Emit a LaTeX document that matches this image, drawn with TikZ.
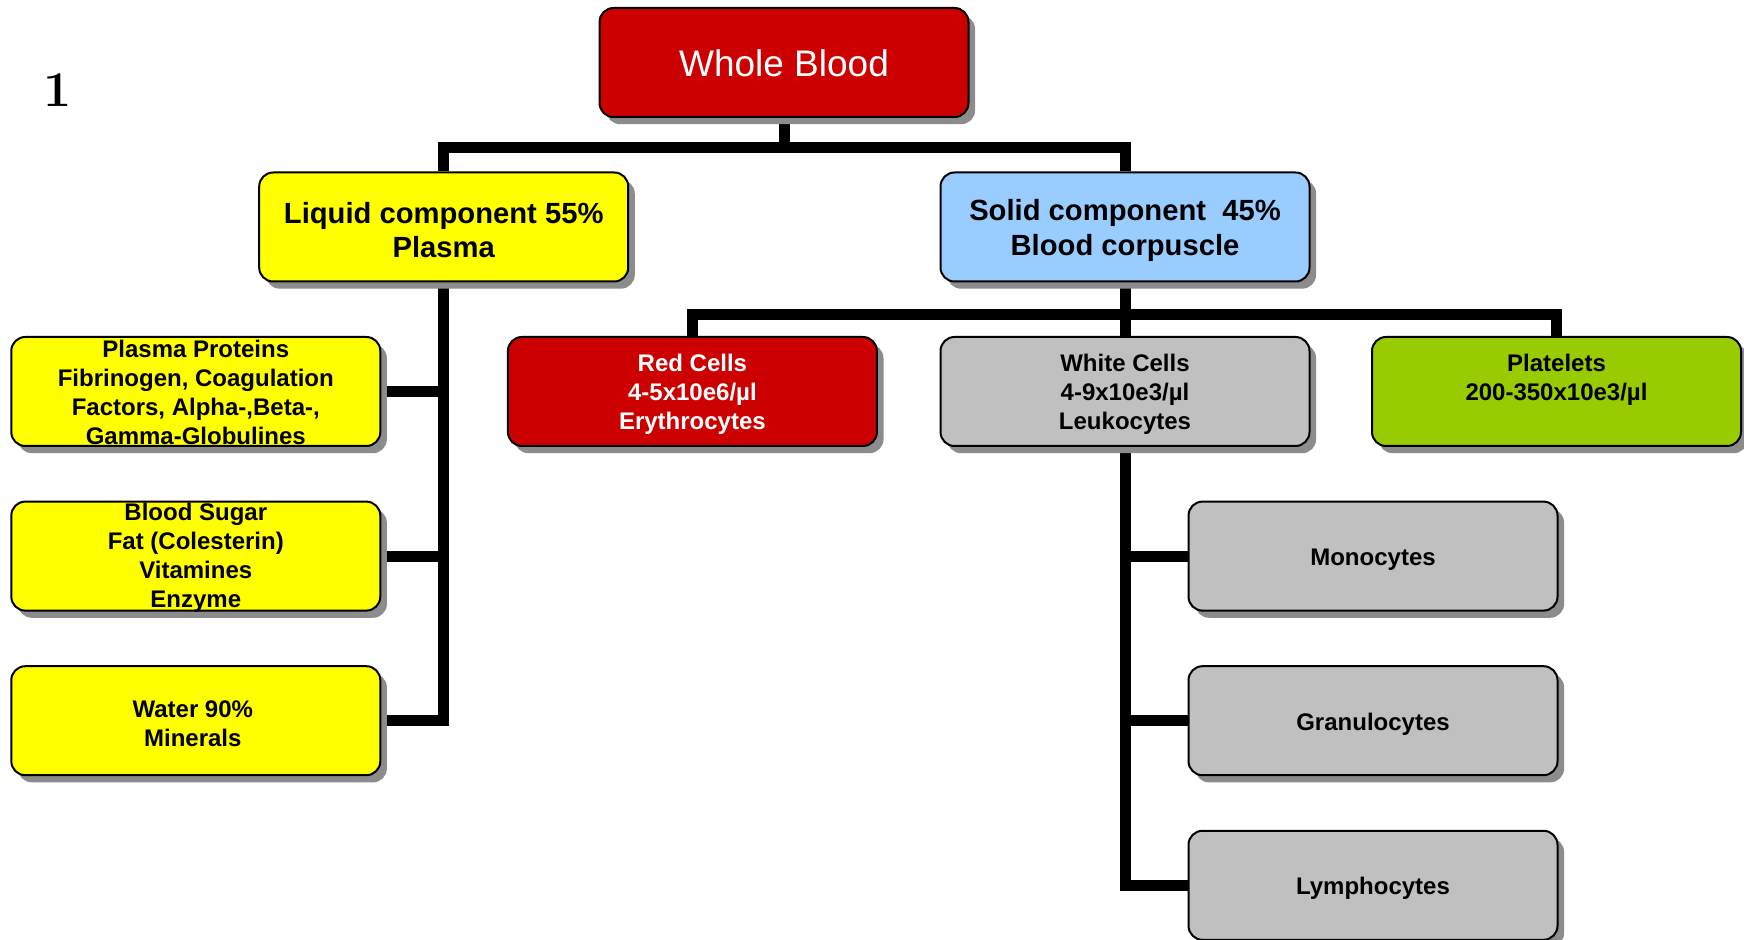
\documentclass[tikz,border=0pt]{standalone}
\usepackage{fontspec}
\setmainfont{Liberation Sans}
\newfontfamily\numfont{Latin Modern Roman}
\usetikzlibrary{shadows}
\definecolor{bred}{HTML}{CC0000}
\definecolor{byellow}{HTML}{FFFF00}
\definecolor{bblue}{HTML}{99CCFF}
\definecolor{bgray}{HTML}{C0C0C0}
\definecolor{bgreen}{HTML}{99CC00}
\definecolor{shadowc}{HTML}{8C8C8C}
\pgfdeclarelayer{bg}
\pgfsetlayers{bg,main}
\begin{document}
\begin{tikzpicture}[x=0.5pt,y=-0.5pt,
  box/.style={draw=black, line width=1pt, rounded corners=7pt,
    minimum width=184.5pt, minimum height=54.5pt, inner sep=0pt,
    drop shadow={shadow xshift=3.3pt, shadow yshift=-3.6pt, fill=shadowc, opacity=1}},
  txt/.style={inner sep=0pt, align=center},
  small/.style={txt, font=\fontsize{12}{14.5}\selectfont\bfseries},
  mid/.style={txt, font=\fontsize{14.6}{17.3}\selectfont\bfseries},
  conn/.style={line width=5.5pt, line join=miter}]
\useasboundingbox (0,0) rectangle (1744,940);

\node[font=\numfont\bfseries\fontsize{25}{30}\selectfont] (num) at (57.5,90) {1};

% boxes
\node[box, fill=bred] (wb) at (784,62.5) {};
\node[box, fill=byellow] (liq) at (443.7,227) {};
\node[box, fill=bblue] (sol) at (1125,227) {};
\node[box, fill=byellow] (prot) at (195.8,391.5) {};
\node[box, fill=byellow] (sugar) at (195.8,556.1) {};
\node[box, fill=byellow] (water) at (195.8,720.7) {};
\node[box, fill=bred] (red) at (692.4,391.5) {};
\node[box, fill=bgray] (wc) at (1125,391.5) {};
\node[box, fill=bgreen] (plt) at (1556.5,391.5) {};
\node[box, fill=bgray] (mono) at (1373,556.1) {};
\node[box, fill=bgray] (gran) at (1373,720.7) {};
\node[box, fill=bgray] (lym) at (1373,885.3) {};

% texts
\node[txt, text=white, font=\fontsize{18.5}{22}\selectfont] (wbt) at ([yshift=-0.6pt]wb.center) {Whole Blood};
\node[mid] (liqt) at ([yshift=-1.6pt]liq.center) {Liquid component 55\%\\Plasma};
\node[mid] (solt) at ([yshift=-1.6pt]sol.center) {Solid component\ \ 45\%\\Blood corpuscle};
\node[small] (prott) at ([yshift=-0.6pt]prot.center) {Plasma Proteins\\Fibrinogen, Coagulation\\Factors, Alpha-,Beta-,\\Gamma-Globulines};
\node[small] (sugart) at ([yshift=-0.6pt]sugar.center) {Blood Sugar\\Fat (Colesterin)\\Vitamines\\Enzyme};
\node[small] (watert) at ([xshift=-1.5pt,yshift=-1.6pt]water.center) {Water 90\%\\Minerals};
\node[small, text=white] (redt) at ([yshift=-1.6pt]red.center) {Red Cells\\4-5x10e6/µl\\Erythrocytes};
\node[small] (wct) at ([yshift=-1.6pt]wc.center) {White Cells\\4-9x10e3/µl\\Leukocytes};
\node[small] (pltt) at ([yshift=-0.2pt]plt.center) {Platelets\\200-350x10e3/µl\\\mbox{}};
\node[small] (monot) at ([yshift=-1.6pt]mono.center) {Monocytes};
\node[small] (grant) at ([yshift=-1.6pt]gran.center) {Granulocytes};
\node[small] (lymt) at ([yshift=-1.6pt]lym.center) {Lymphocytes};

\coordinate (tj) at (784,148);
\coordinate (sj) at (1125,314.7);

\begin{pgfonlayer}{bg}
\draw[conn] (wb.south) -- (tj);
\draw[conn] (liq.north) |- (tj) -| (sol.north);
\draw[conn] (liq.south) |- (water.east);
\draw[conn] (prot.east) -- (prot.east -| liq.south);
\draw[conn] (sugar.east) -- (sugar.east -| liq.south);
\draw[conn] (sol.south) -- (wc.north);
\draw[conn] (red.north) |- (sj) -| (plt.north);
\draw[conn] (wc.south) |- (lym.west);
\draw[conn] (mono.west) -- (mono.west -| wc.south);
\draw[conn] (gran.west) -- (gran.west -| wc.south);
\end{pgfonlayer}
\end{tikzpicture}
\end{document}
